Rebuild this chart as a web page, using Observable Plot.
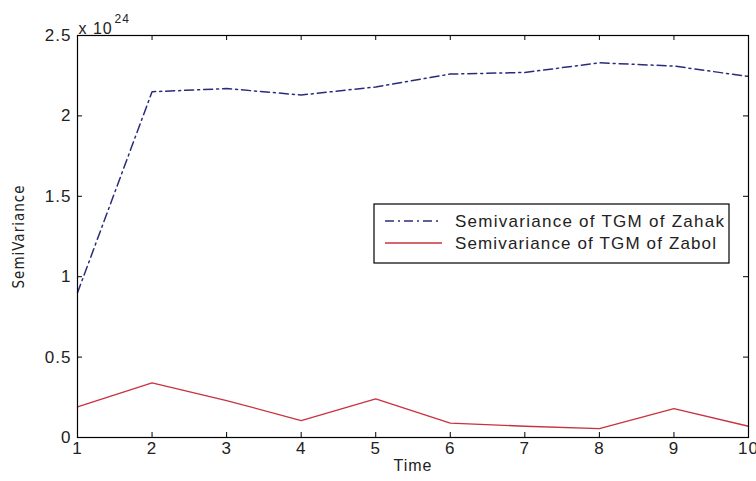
<!DOCTYPE html>
<html>
<head>
<meta charset="utf-8">
<script src="https://cdn.jsdelivr.net/npm/d3@7"></script>
<script src="https://cdn.jsdelivr.net/npm/@observablehq/plot@0.6"></script>
<style>
  html, body { margin: 0; padding: 0; background: #fff; }
  svg { font-family: "Liberation Sans", Arial, sans-serif; }
  svg text { letter-spacing: 1px; }
</style>
</head>
<body>
<div id="chart"></div>
<script>
const time = [1, 2, 3, 4, 5, 6, 7, 8, 9, 10];
// values in units of 1e24
const zahak = [0.90, 2.15, 2.17, 2.13, 2.18, 2.26, 2.27, 2.33, 2.31, 2.245];
const zabol = [0.19, 0.34, 0.23, 0.105, 0.24, 0.09, 0.07, 0.055, 0.18, 0.07];
const xTicks = [1, 2, 3, 4, 5, 6, 7, 8, 9, 10];
const yTicks = [0, 0.5, 1, 1.5, 2, 2.5];
const seriesNames = ["Semivariance of TGM of Zahak", "Semivariance of TGM of Zabol"];
const colors = ["#2b2b7c", "#c8323e"];

const dataZahak = time.map((t, i) => ({t, v: zahak[i]}));
const dataZabol = time.map((t, i) => ({t, v: zabol[i]}));

const W = 756, H = 481;
const mt = 35, mb = 44, ml = 77, mr = 8;
const ph = H - mt - mb, pw = W - ml - mr;

const plot = Plot.plot({
  width: W, height: H,
  marginTop: mt, marginBottom: mb, marginLeft: ml, marginRight: mr,
  x: {domain: [1, 10]},
  y: {domain: [0, 2.5]},
  style: {fontSize: "15px", color: "#222", background: "#fff"},
  marks: [
    Plot.line(dataZabol, {x: "t", y: "v", stroke: colors[1], strokeWidth: 1.3}),
    Plot.line(dataZahak, {x: "t", y: "v", stroke: colors[0], strokeWidth: 1.5, strokeDasharray: "9,4,2,4"}),
    // inward ticks
    Plot.tickX(xTicks, {x: d => d, insetTop: ph - 5, stroke: "#000"}),
    Plot.tickX(xTicks, {x: d => d, insetBottom: ph - 5, stroke: "#000"}),
    Plot.tickY(yTicks, {y: d => d, insetRight: pw - 5, stroke: "#000"}),
    Plot.tickY(yTicks, {y: d => d, insetLeft: pw - 5, stroke: "#000"}),
    Plot.axisX(xTicks, {tickSize: 0, tickPadding: 4, label: null, fontSize: 17, fill: "#222"}),
    Plot.axisY(yTicks, {tickSize: 0, tickPadding: 6, label: null, fontSize: 17, fill: "#222", tickFormat: d => String(d)}),
    Plot.frame({stroke: "#000", strokeWidth: 1.2}),
    Plot.text(["Time"], {frameAnchor: "bottom", textAnchor: "middle", dy: 33, fontSize: 16, fill: "#222"}),
    Plot.text(["SemiVariance"], {frameAnchor: "left", textAnchor: "middle", rotate: -90, dx: -58, fontSize: 15, fill: "#222", fontFamily: "'Liberation Sans Narrow', 'DejaVu Sans Condensed', sans-serif"}),
    Plot.text(["x 10"], {frameAnchor: "top-left", textAnchor: "start", dx: 1, dy: -13, fontSize: 16, fill: "#222"}),
    Plot.text(["24"], {frameAnchor: "top-left", textAnchor: "start", dx: 37, dy: -21, fontSize: 12, fill: "#222"})
  ]
});

document.getElementById("chart").appendChild(plot);

// legend box
const svg = d3.select(plot);
const lg = svg.append("g").attr("text-anchor", "start");
lg.append("rect").attr("x", 374).attr("y", 204).attr("width", 355).attr("height", 59)
  .attr("fill", "#fff").attr("stroke", "#000").attr("stroke-width", 1.2);
const rows = [221, 243];
seriesNames.forEach((name, i) => {
  lg.append("line").attr("x1", 385).attr("x2", 442).attr("y1", rows[i]).attr("y2", rows[i])
    .attr("stroke", colors[i]).attr("stroke-width", 1.4)
    .attr("stroke-dasharray", i === 0 ? "9,4,2,4" : null);
  lg.append("text").attr("x", 455).attr("y", rows[i]).attr("dy", "0.35em")
    .attr("text-anchor", "start")
    .attr("font-size", 17).attr("fill", "#222")
    .attr("textLength", i === 0 ? 270 : 262).attr("lengthAdjust", "spacing")
    .text(name);
});
</script>
</body>
</html>
